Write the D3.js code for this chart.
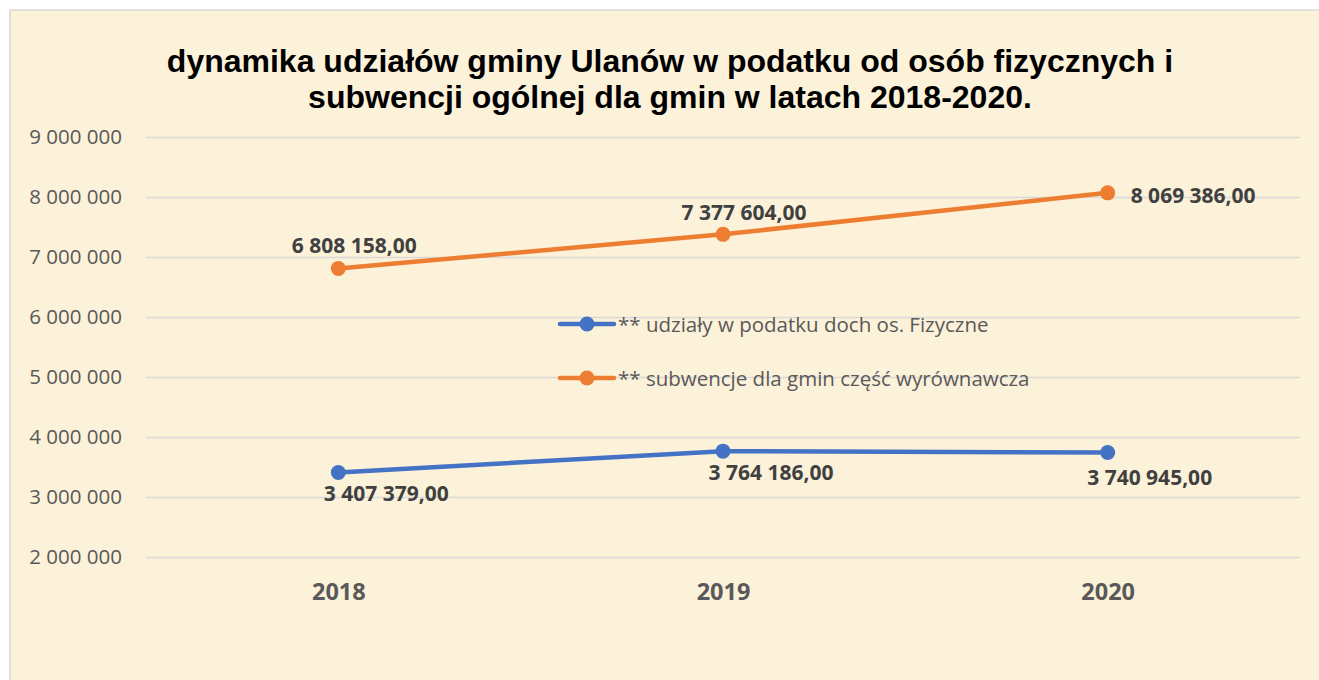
<!DOCTYPE html>
<html>
<head>
<meta charset="utf-8">
<script src="https://cdn.jsdelivr.net/npm/d3@7"></script>
<style>
  body { margin: 0; background: #fff; }
  svg { display: block; }
</style>
</head>
<body>
<svg id="chart"></svg>
<script>
// Data
const years = ["2018", "2019", "2020"];
const pitValues = [3407379, 3764186, 3740945];      // udziały w podatku
const subsidyValues = [6808158, 7377604, 8069386];  // subwencje
const yTicks = [2000000, 3000000, 4000000, 5000000, 6000000, 7000000, 8000000, 9000000];
const seriesNames = ["** udziały w podatku doch os. Fizyczne", "** subwencje dla gmin część wyrównawcza"];
const titleLines = ["dynamika udziałów gminy Ulanów w podatku od osób fizycznych i",
                    "subwencji ogólnej dla gmin w latach 2018-2020."];

// label placement: dx, baseline dy relative to the point, anchor
const pitLabelPos = [[48, 28, "middle"], [48, 29, "middle"], [42, 32, "middle"]];
const subsidyLabelPos = [[16, -16, "middle"], [21, -14, "middle"], [23, 10, "start"]];

const width = 1319, height = 680;
const margin = { top: 137, right: 19, bottom: 123, left: 146 };

const svg = d3.select("#chart").attr("width", width).attr("height", height);

// parchment background
const defs = svg.append("defs");
const filter = defs.append("filter").attr("id", "paper").attr("x", 0).attr("y", 0).attr("width", 1).attr("height", 1);
filter.append("feTurbulence").attr("type", "fractalNoise").attr("baseFrequency", "0.012 0.02").attr("numOctaves", 3).attr("seed", 4).attr("result", "noise");
filter.append("feColorMatrix").attr("in", "noise").attr("type", "matrix")
    .attr("values", "0 0 0 0 0.97  0 0 0 0 0.89  0 0 0 0 0.70  0 0 0 0.6 -0.12").attr("result", "tint");
filter.append("feComposite").attr("in", "tint").attr("in2", "SourceGraphic").attr("operator", "in");

svg.append("rect").attr("x", 10).attr("y", 10).attr("width", width).attr("height", height)
    .attr("fill", "#fcf1d9").attr("stroke", "#d9d9d9").attr("stroke-width", 1.5);
svg.append("rect").attr("x", 11).attr("y", 11).attr("width", width).attr("height", height)
    .attr("fill", "#fcf1d9").attr("filter", "url(#paper)");

// title
svg.append("text")
    .attr("x", 670).attr("y", 72)
    .attr("text-anchor", "middle")
    .attr("font-family", "Liberation Sans, Arial, sans-serif")
    .attr("font-weight", "bold")
    .attr("font-size", "32px")
    .attr("fill", "#000")
    .selectAll("tspan")
    .data(titleLines)
    .enter()
    .append("tspan")
    .attr("x", 670)
    .attr("dy", (d, i) => i === 0 ? 0 : 36)
    .text(d => d);

// scales
const x = d3.scalePoint()
    .domain(years)
    .range([margin.left, width - margin.right])
    .padding(0.5);

const y = d3.scaleLinear()
    .domain([2000000, 9000000])
    .range([height - margin.bottom, margin.top]);

const fmtTick = d => d3.format(",")(d).replace(/,/g, " ");
const fmtLabel = d => d3.format(",.2f")(d).replace(/,/g, " ").replace(".", ",");

// y axis with gridlines
const yAxis = svg.append("g")
    .attr("transform", `translate(${margin.left}, 0)`)
    .call(d3.axisLeft(y).tickValues(yTicks).tickSize(-(width - margin.left - margin.right)).tickPadding(24).tickFormat(fmtTick));
yAxis.select(".domain").remove();
yAxis.selectAll(".tick line").attr("stroke", "#d9d9d9").attr("stroke-width", 1.5);
yAxis.selectAll(".tick text")
    .attr("fill", "#595959")
    .attr("font-family", "Open Sans, sans-serif")
    .attr("font-size", "20.5px");

// x axis labels
const xAxis = svg.append("g")
    .attr("transform", `translate(0, ${height - margin.bottom})`)
    .call(d3.axisBottom(x).tickSize(0));
xAxis.select(".domain").remove();
xAxis.selectAll(".tick text")
    .attr("y", 43)
    .attr("dy", null)
    .attr("fill", "#595959")
    .attr("font-family", "Open Sans, sans-serif")
    .attr("font-weight", "bold")
    .attr("font-size", "23.5px");

// series
const series = [
    { name: seriesNames[0], values: pitValues, color: "#4472c4", pos: pitLabelPos },
    { name: seriesNames[1], values: subsidyValues, color: "#ed7d31", pos: subsidyLabelPos }
];

const line = d3.line()
    .x((d, i) => x(years[i]))
    .y(d => y(d));

series.forEach(s => {
    svg.append("path")
        .datum(s.values)
        .attr("fill", "none")
        .attr("stroke", s.color)
        .attr("stroke-width", 4.5)
        .attr("stroke-linecap", "round")
        .attr("d", line);

    svg.append("g").selectAll("circle")
        .data(s.values)
        .enter()
        .append("circle")
        .attr("cx", (d, i) => x(years[i]))
        .attr("cy", d => y(d))
        .attr("r", 7.5)
        .attr("fill", s.color);

    svg.append("g").selectAll("text")
        .data(s.values)
        .enter()
        .append("text")
        .attr("x", (d, i) => x(years[i]) + s.pos[i][0])
        .attr("y", (d, i) => y(d) + s.pos[i][1])
        .attr("text-anchor", (d, i) => s.pos[i][2])
        .attr("fill", "#404040")
        .attr("font-family", "Open Sans, sans-serif")
        .attr("font-weight", "bold")
        .attr("font-size", "21px")
        .text(d => fmtLabel(d));
});

// legend
const legend = svg.append("g").attr("transform", "translate(558, 324)");
series.forEach((s, i) => {
    const g = legend.append("g").attr("transform", `translate(0, ${i * 54})`);
    g.append("line").attr("x1", 2).attr("x2", 56).attr("y1", 0).attr("y2", 0)
        .attr("stroke", s.color).attr("stroke-width", 4.5).attr("stroke-linecap", "round");
    g.append("circle").attr("cx", 29).attr("cy", 0).attr("r", 7.5).attr("fill", s.color);
    g.append("text")
        .attr("x", 60).attr("y", 7.5)
        .attr("fill", "#595959")
        .attr("font-family", "Open Sans, sans-serif")
        .attr("font-size", "20.5px")
        .text(s.name);
});
</script>
</body>
</html>
